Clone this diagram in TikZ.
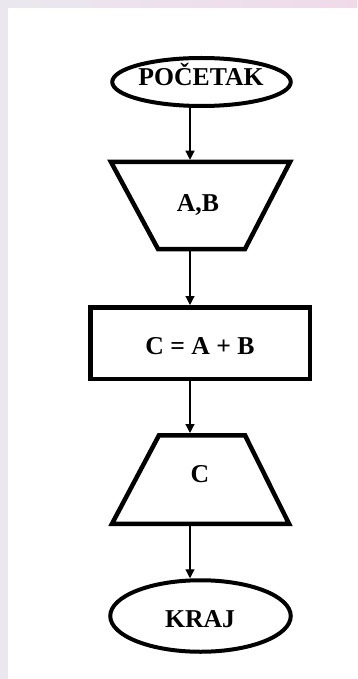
\documentclass[tikz,border=0pt]{standalone}
\usepackage{fontspec}
\setmainfont{Liberation Serif}
\usetikzlibrary{shapes.geometric,arrows.meta}
\definecolor{bgside}{RGB}{234,232,238}
\definecolor{bgpink}{RGB}{240,218,232}
\begin{document}
\begin{tikzpicture}[x=1pt,y=-1pt,
  shapeline/.style={draw=black,line width=4.5pt,line join=miter},
  term/.style={ellipse,draw=black,line width=4pt,inner sep=0pt},
  ghost/.style={draw=none,inner sep=0pt,outer sep=2.25pt},
  lbl/.style={anchor=base,inner sep=0pt,font=\fontsize{25.7}{30}\selectfont\bfseries},
  arr/.style={draw=black,line width=1.2pt,-{Triangle[width=9pt,length=9pt]}}]
\useasboundingbox (0,0) rectangle (357,679);
% background
\fill[bgside] (0,0) rectangle (357,679);
\shade[left color=bgside,right color=bgpink] (0,0) rectangle (357,8);
\fill[white] (8,8) rectangle (357,679);
% spine for connectors
\coordinate (spine) at (190,0);
% start
\node[term,minimum width=178.5pt,minimum height=48pt] (start) at (201.5,82) {};
\node[lbl] (startt) at (201,86) {POČETAK};
% input A,B
\node[ghost,minimum width=179pt,minimum height=87pt] (in) at (200.5,205.5) {};
\draw[shapeline] (111,162) -- (290,162) -- (245,249) -- (158,249) -- cycle;
\node[lbl] (int) at (198,211.5) {A,B};
% process
\node[rectangle,draw=black,line width=4.5pt,inner sep=0pt,minimum width=219.5pt,minimum height=71.5pt] (proc) at (200,343) {};
\node[lbl] (proct) at (200,354.5) {C = A + B};
% output C
\node[ghost,minimum width=177pt,minimum height=88.5pt] (out) at (200.5,479.5) {};
\draw[shapeline] (159,435.25) -- (245,435.25) -- (289,523.75) -- (112,523.75) -- cycle;
\node[lbl] (outt) at (200,482.5) {C};
% end
\node[term,minimum width=180.5pt,minimum height=71.5pt] (stop) at (200.5,616) {};
\node[lbl] (stopt) at (200,627.5) {KRAJ};
% connectors
\draw[arr] (start.south -| spine) -- (in.north -| spine);
\draw[arr] (in.south -| spine) -- (proc.north -| spine);
\draw[arr] (proc.south -| spine) -- (out.north -| spine);
\draw[arr] (out.south -| spine) -- (stop.north -| spine);
\end{tikzpicture}
\end{document}
